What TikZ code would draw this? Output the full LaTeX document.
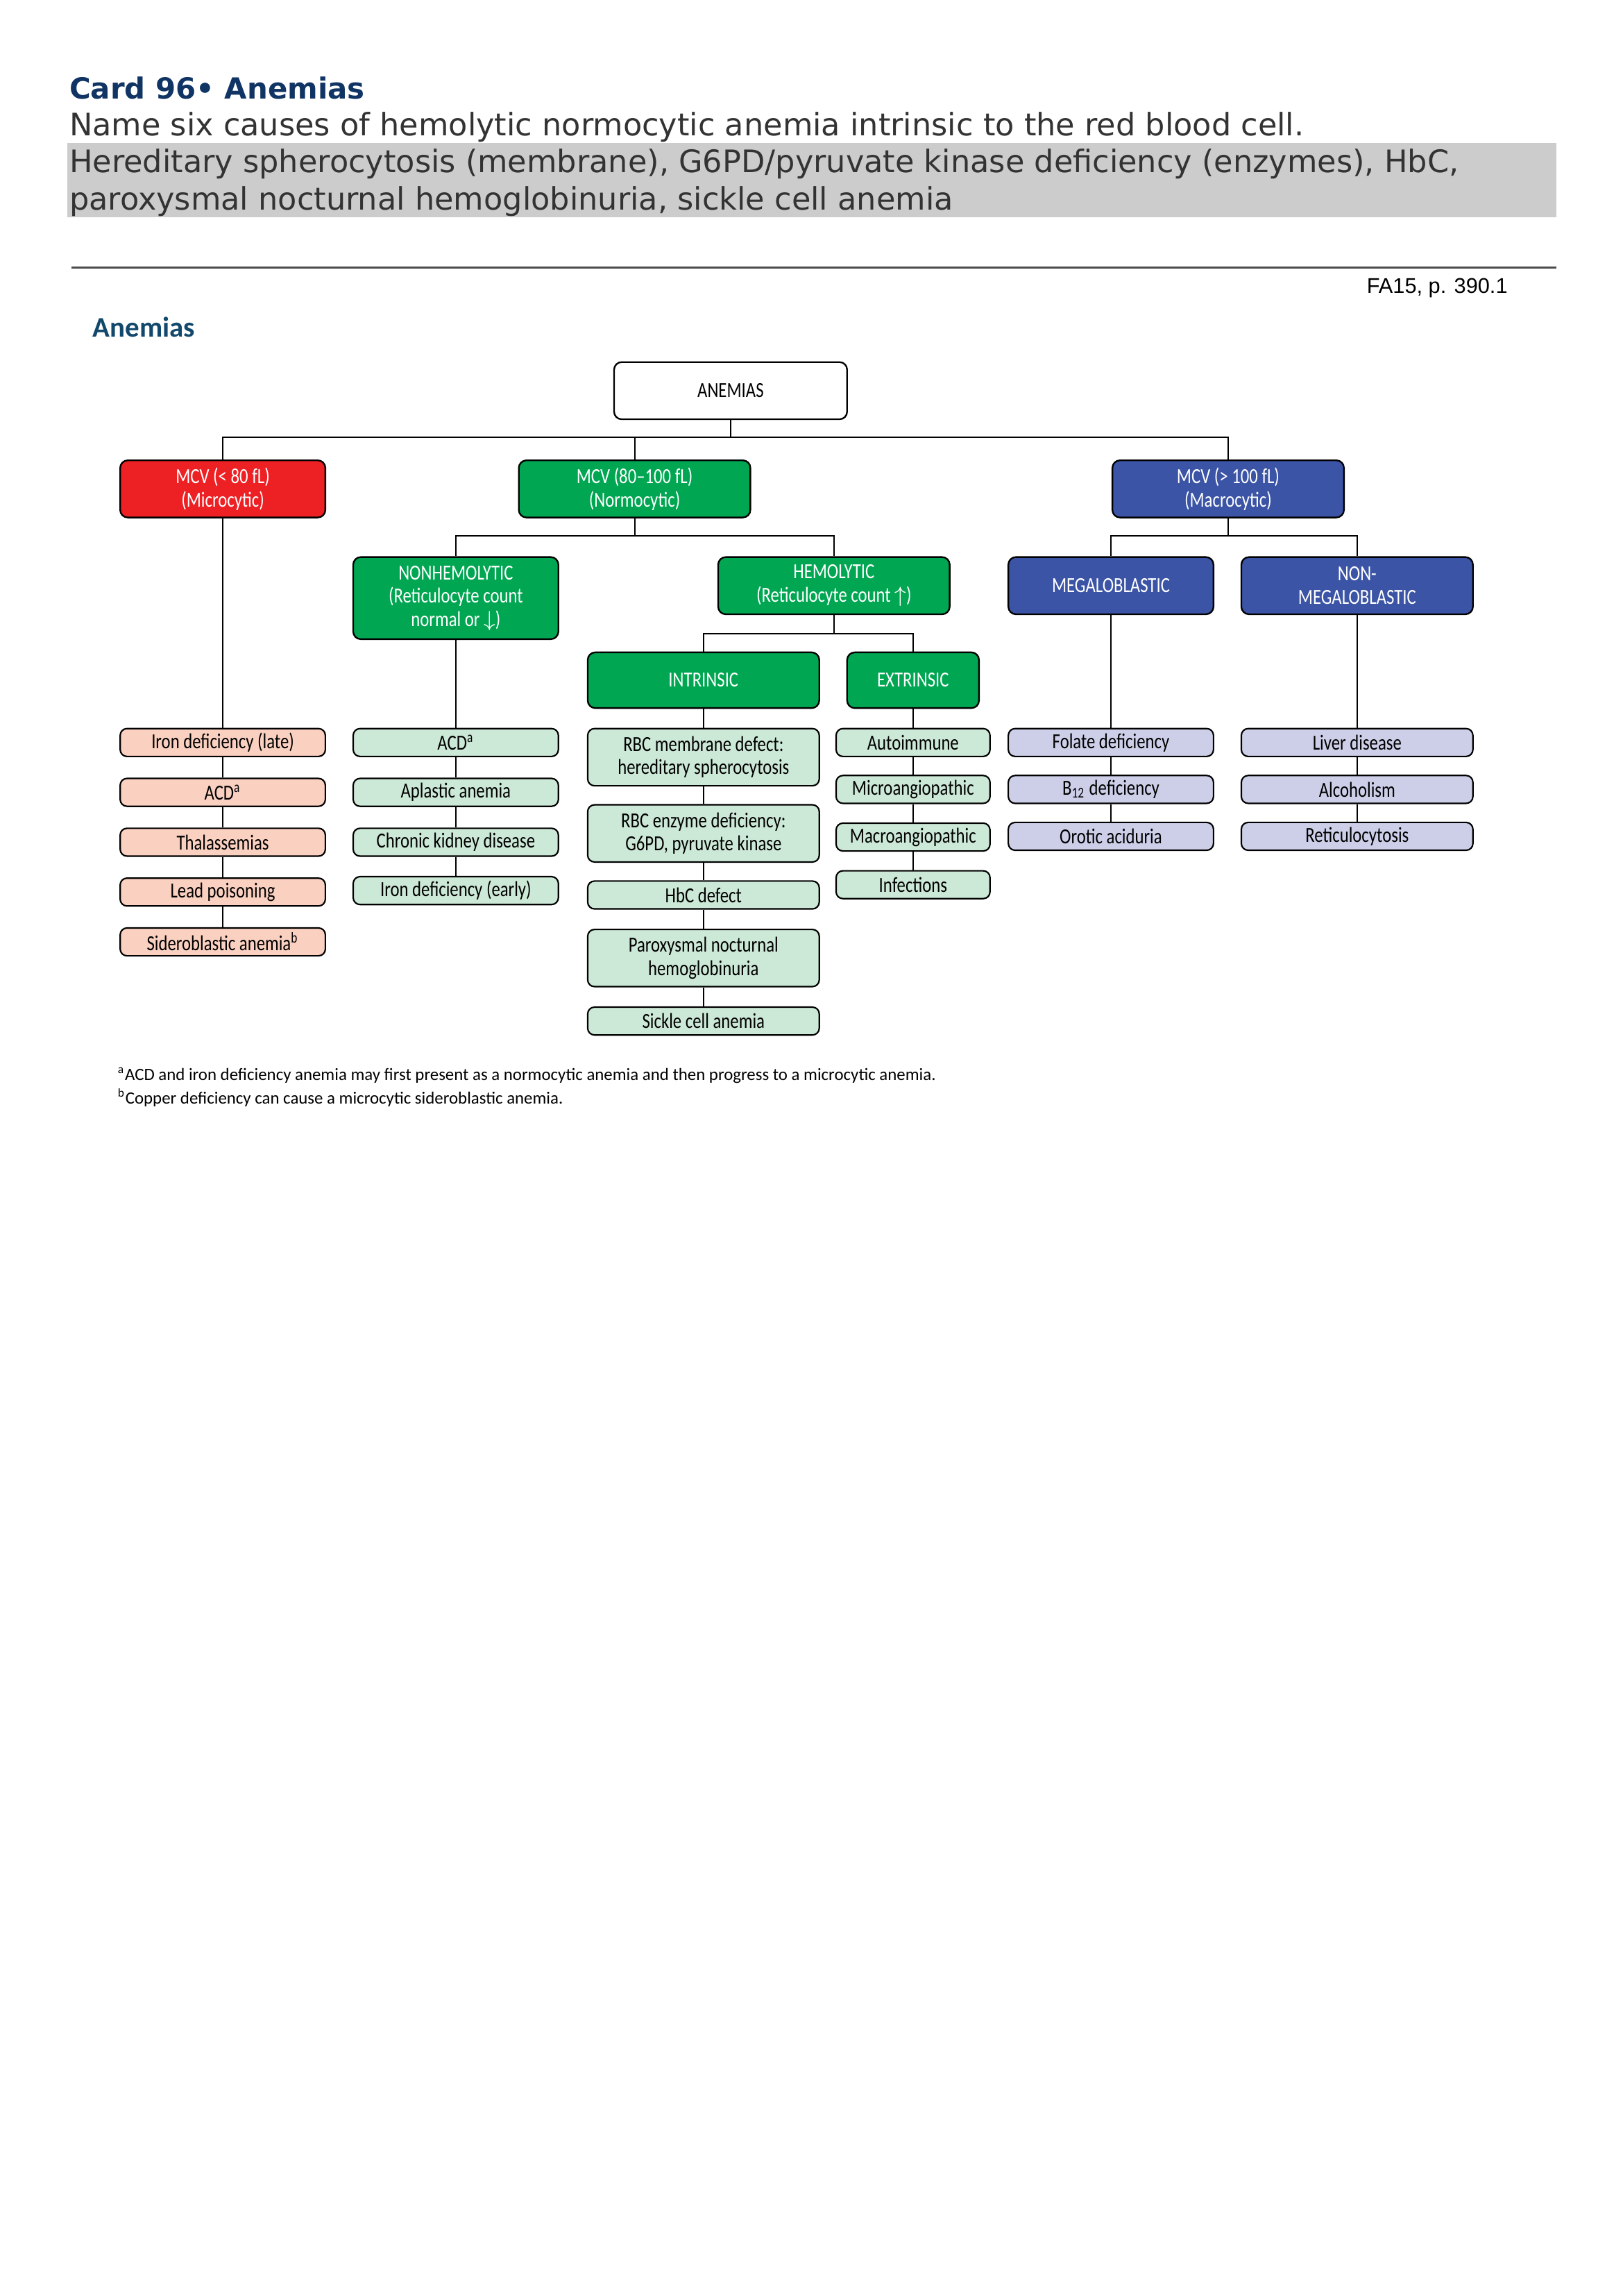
\documentclass[tikz,border=0pt]{standalone}
\usepackage{fontspec}
\setmainfont{Carlito}
\newfontfamily\diagfont{Carlito}[FakeStretch=0.80]
\newfontfamily\cardfont{DejaVu Sans}
\newfontfamily\fafont{Liberation Sans}

\definecolor{cardblue}{RGB}{16,52,100}
\definecolor{headblue}{RGB}{18,72,108}
\definecolor{answergray}{RGB}{204,204,204}
\definecolor{microred}{RGB}{237,32,36}
\definecolor{normogreen}{RGB}{0,166,81}
\definecolor{macroblue}{RGB}{59,84,165}
\definecolor{microleaf}{RGB}{250,208,192}
\definecolor{normoleaf}{RGB}{204,232,214}
\definecolor{macroleaf}{RGB}{205,207,233}

\newcommand{\px}{0.018963cm}

\tikzset{
  box/.style={draw=black, rounded corners=2.8pt, line width=0.6pt, align=center,
    inner sep=1pt, font=\diagfont\fontsize{7.9}{8.6}\selectfont},
  catbox/.style={box, fill=#1, text=white, minimum height=39*\px},
  leafbox/.style={box, fill=#1, rounded corners=2.5pt, line width=0.55pt, minimum height=19*\px},
  tallleaf/.style={leafbox=#1, minimum height=39*\px},
  link/.style={draw=black, line width=0.5pt}
}

\begin{document}
\begin{tikzpicture}[x=\px, y=-\px]
\useasboundingbox (0,0) rectangle (1107.4,1566.2);

\node[anchor=base west, inner sep=0, text=cardblue, font=\cardfont\bfseries\fontsize{10.7}{13}\selectfont] (title) at (47,67.5) {Card 96• Anemias};
\fill[answergray] (46,97.5) rectangle (1062,148);
\node[anchor=base west, inner sep=0, text=black!80, font=\cardfont\fontsize{11.4}{13}\selectfont] (question) at (47,92.5) {Name six causes of hemolytic normocytic anemia intrinsic to the red blood cell.};
\node[anchor=base west, inner sep=0, text=black!80, font=\cardfont\fontsize{11.4}{13}\selectfont] (answer1) at (47,117.5) {Hereditary spherocytosis (membrane), G6PD/pyruvate kinase deficiency (enzymes), HbC,};
\node[anchor=base west, inner sep=0, text=black!80, font=\cardfont\fontsize{11.4}{13}\selectfont] (answer2) at (47,143) {paroxysmal nocturnal hemoglobinuria, sickle cell anemia};
\draw[black!70, line width=0.6pt] (49,182.5) -- (1062,182.5);
\node[anchor=base east, inner sep=0, font=\fafont\fontsize{7.85}{9}\selectfont] (source) at (1029,200) {FA15, p. 390.1};
\node[anchor=base west, inner sep=0, text=headblue, font=\bfseries\fontsize{10.45}{12}\selectfont] (heading) at (63,230) {Anemias};

\node[box, fill=white, minimum width=159*\px, minimum height=39*\px] (anem) at (498.5,266.5) {ANEMIAS};

\node[catbox=microred, minimum width=140*\px] (micro) at (152,333.5) {MCV (< 80 fL)\\(Microcytic)};
\node[catbox=normogreen, minimum width=158*\px] (normo) at (433,333.5) {MCV (80–100 fL)\\(Normocytic)};
\node[catbox=macroblue, minimum width=158*\px] (macro) at (838,333.5) {MCV (> 100 fL)\\(Macrocytic)};

\node[catbox=normogreen, minimum width=140*\px, minimum height=56*\px] (nonhemo) at (311,408) {NONHEMOLYTIC\\(Reticulocyte count\\normal or $\downarrow$)};
\node[catbox=normogreen, minimum width=158*\px] (hemo) at (569,399.5) {HEMOLYTIC\\(Reticulocyte count $\uparrow$)};
\node[catbox=macroblue, minimum width=140*\px] (mega) at (758,399.5) {MEGALOBLASTIC};
\node[catbox=macroblue, minimum width=158*\px] (nonmega) at (926,399.5) {NON-\\MEGALOBLASTIC};

\node[catbox=normogreen, minimum width=158*\px, minimum height=38*\px] (intr) at (480,464) {INTRINSIC};
\node[catbox=normogreen, minimum width=90*\px, minimum height=38*\px] (extr) at (623,464) {EXTRINSIC};

\foreach \t [count=\i] in {Iron deficiency (late), ACD\textsuperscript{a}, Thalassemias, Lead poisoning, Sideroblastic anemia\textsuperscript{b}}
  \node[leafbox=microleaf, minimum width=140*\px] (m\i) at (152,{506.5+34*(\i-1)}) {\t};
\foreach \t/\y [count=\i] in {ACD\textsuperscript{a}/506.5, Aplastic anemia/540.5, Chronic kidney disease/574.5, Iron deficiency (early)/607.5}
  \node[leafbox=normoleaf, minimum width=140*\px] (n\i) at (311,\y) {\t};

\node[tallleaf=normoleaf, minimum width=158*\px] (i1) at (480,516.5) {RBC membrane defect:\\hereditary spherocytosis};
\node[tallleaf=normoleaf, minimum width=158*\px] (i2) at (480,568.5) {RBC enzyme deficiency:\\G6PD, pyruvate kinase};
\node[leafbox=normoleaf, minimum width=158*\px] (i3) at (480,610.5) {HbC defect};
\node[tallleaf=normoleaf, minimum width=158*\px] (i4) at (480,653.5) {Paroxysmal nocturnal\\hemoglobinuria};
\node[leafbox=normoleaf, minimum width=158*\px] (i5) at (480,696.5) {Sickle cell anemia};

\foreach \t/\y [count=\i] in {Autoimmune/506.5, Microangiopathic/538.5, Macroangiopathic/571, Infections/603.5}
  \node[leafbox=normoleaf, minimum width=105*\px] (e\i) at (623,\y) {\t};
\foreach \t [count=\i] in {Folate deficiency, B\textsubscript{12} deficiency, Orotic aciduria}
  \node[leafbox=macroleaf, minimum width=140*\px] (g\i) at (758,{506.5+32*(\i-1)}) {\t};
\foreach \t [count=\i] in {Liver disease, Alcoholism, Reticulocytosis}
  \node[leafbox=macroleaf, minimum width=158*\px] (h\i) at (926,{506.5+32*(\i-1)}) {\t};

\draw[link] (anem.south) -- ++(0,11.5) coordinate (j1);
\foreach \c in {micro,normo,macro} \draw[link] (j1) -| (\c.north);
\draw[link] (normo.south) -- ++(0,12) coordinate (j2);
\foreach \c in {nonhemo,hemo} \draw[link] (j2) -| (\c.north);
\draw[link] (macro.south) -- ++(0,12) coordinate (j3);
\foreach \c in {mega,nonmega} \draw[link] (j3) -| (\c.north);
\draw[link] (hemo.south) -- ++(0,12.5) coordinate (j4);
\foreach \c in {intr,extr} \draw[link] (j4) -| (\c.north);

\foreach \a/\b in {micro/m1,m1/m2,m2/m3,m3/m4,m4/m5,nonhemo/n1,n1/n2,n2/n3,n3/n4,
  intr/i1,i1/i2,i2/i3,i3/i4,i4/i5,extr/e1,e1/e2,e2/e3,e3/e4,mega/g1,g1/g2,g2/g3,nonmega/h1,h1/h2,h2/h3}
  \draw[link] (\a.south) -- (\b.north);

\node[anchor=base west, inner sep=0, font=\fontsize{6.35}{8}\selectfont] (note1) at (80,737) {\textsuperscript{a}ACD and iron deficiency anemia may first present as a normocytic anemia and then progress to a microcytic anemia.};
\node[anchor=base west, inner sep=0, font=\fontsize{6.35}{8}\selectfont] (note2) at (80,753) {\textsuperscript{b}Copper deficiency can cause a microcytic sideroblastic anemia.};
\end{tikzpicture}
\end{document}
